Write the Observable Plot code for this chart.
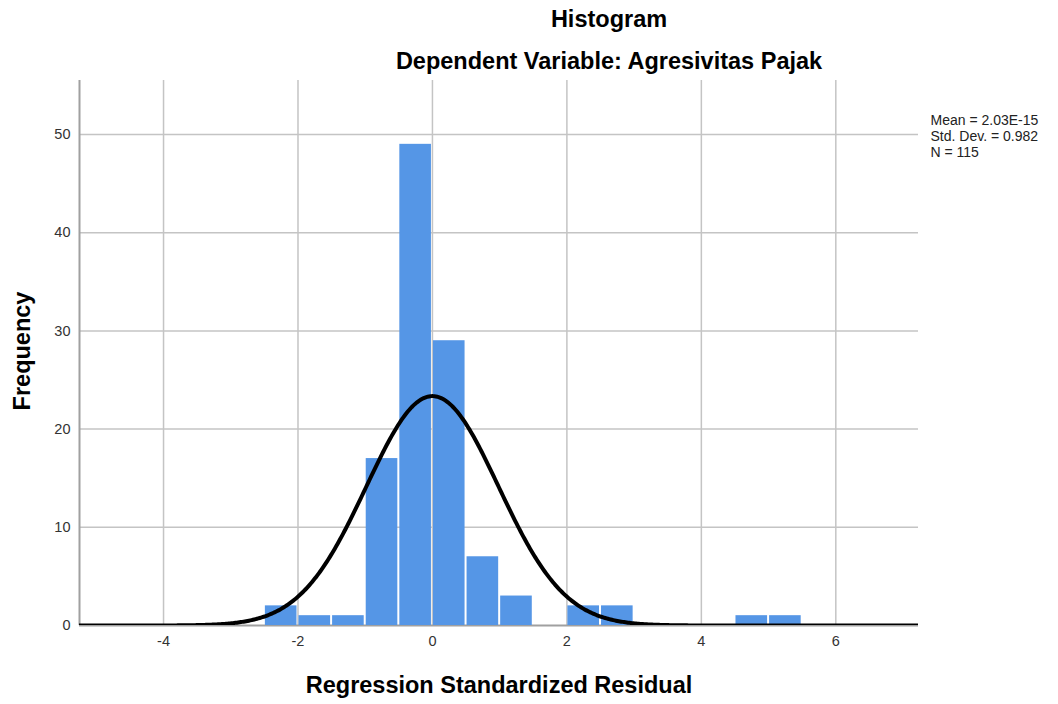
<!DOCTYPE html>
<html>
<head>
<meta charset="utf-8">
<script src="https://cdn.jsdelivr.net/npm/d3@7"></script>
<script src="https://cdn.jsdelivr.net/npm/@observablehq/plot@0.6"></script>
<style>
  html, body { margin: 0; padding: 0; background: #fff; }
</style>
</head>
<body>
<div id="chart"></div>
<script>
// Histogram bins (lower edge, width 0.5) and frequencies
const binStart = [-2.5, -2, -1.5, -1, -0.5, 0, 0.5, 1, 2, 2.5, 4.5, 5];
const binCount = [2, 1, 1, 17, 49, 29, 7, 3, 2, 2, 1, 1];
const binWidth = 0.5;

// Legend statistics
const meanVal = 2.03e-15;
const sdVal = 0.982;
const nVal = 115;
const legendLines = ["Mean = 2.03E-15", "Std. Dev. = 0.982", "N = 115"];

// Axis ticks
const xTicks = [-4, -2, 0, 2, 4, 6];
const yTicks = [0, 10, 20, 30, 40, 50];

const titleText = "Histogram";
const subtitleText = "Dependent Variable: Agresivitas Pajak";
const xLabel = "Regression Standardized Residual";
const yLabel = "Frequency";

const xDomain = [-5.25, 7.23];
const yDomain = [0, 55.5];

const bars = binStart.map((s, i) => ({x1: s, x2: s + binWidth, y: binCount[i]}));

// Fitted normal curve from the legend's mean, SD and N
const curve = d3.range(xDomain[0], xDomain[1] + 0.001, 0.02).map(x => ({
  x,
  y: nVal * binWidth * Math.exp(-0.5 * ((x - meanVal) / sdVal) ** 2) / (sdVal * Math.sqrt(2 * Math.PI))
}));

const font = "'Liberation Sans', Arial, sans-serif";
const narrow = "'Liberation Sans Narrow', 'Arial Narrow', 'Liberation Sans', Arial, sans-serif";

const chart = Plot.plot({
  width: 1058,
  height: 704,
  marginLeft: 79,
  marginRight: 140,
  marginTop: 80,
  marginBottom: 79,
  style: {fontFamily: font, fontSize: "14px", color: "#333", background: "#fff", overflow: "visible"},
  x: {domain: xDomain},
  y: {domain: yDomain},
  marks: [
    Plot.gridX(xTicks, {stroke: "#c4c4c4", strokeOpacity: 1, strokeWidth: 1.5}),
    Plot.gridY(yTicks.slice(1), {stroke: "#c4c4c4", strokeOpacity: 1, strokeWidth: 1.5}),
    Plot.ruleX([xDomain[0]], {stroke: "#a0a0a0", strokeWidth: 2}),
    Plot.ruleY([0], {stroke: "#a0a0a0", strokeWidth: 2}),
    Plot.rectY(bars, {x1: "x1", x2: "x2", y: "y", fill: "#5596e6", insetLeft: 1, insetRight: 1}),
    Plot.line(curve, {x: "x", y: "y", stroke: "#000", strokeWidth: 4, clip: true}),
    Plot.axisX(xTicks, {tickSize: 0, tickPadding: 10, label: null, fill: "#333", fontSize: 14.5, tickFormat: d => String(d)}),
    Plot.axisY(yTicks, {tickSize: 0, tickPadding: 9, label: null, fill: "#333", fontSize: 14.5, tickFormat: d => String(d)}),
    Plot.text([titleText], {frameAnchor: "top", dx: 110, dy: -70, fontSize: 23.5, fontWeight: "bold", fill: "#000"}),
    Plot.text([subtitleText], {frameAnchor: "top", dx: 110, dy: -28, fontSize: 23.5, fontWeight: "bold", fill: "#000"}),
    Plot.text([xLabel], {frameAnchor: "bottom", dy: 67, fontSize: 23.5, fontWeight: "bold", fill: "#000"}),
    Plot.text([yLabel], {frameAnchor: "left", textAnchor: "middle", dx: -57, dy: -2, rotate: -90, fontSize: 23.5, fontWeight: "bold", fill: "#000"}),
    Plot.text([legendLines.join("\n")], {frameAnchor: "top-right", textAnchor: "start", lineAnchor: "top", dx: 12, dy: 33, fontSize: 14, lineHeight: 1.15, fill: "#222", fontFamily: narrow})
  ]
});
document.getElementById("chart").appendChild(chart);
</script>
</body>
</html>
